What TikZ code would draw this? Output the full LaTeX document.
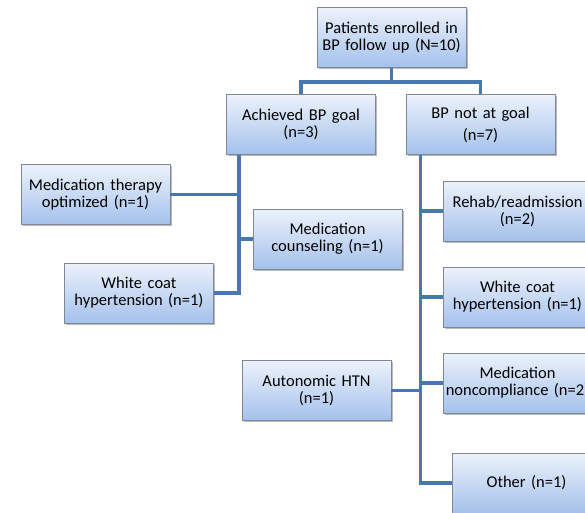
\documentclass[tikz,border=0pt]{standalone}
\usepackage{fontspec}
\setmainfont{Carlito}
\usetikzlibrary{shadows,calc}
\definecolor{boxtop}{RGB}{236,242,251}
\definecolor{boxbot}{RGB}{164,193,236}
\definecolor{boxline}{RGB}{128,136,148}
\definecolor{linkblue}{RGB}{72,120,178}
\begin{document}
\begin{tikzpicture}[
  x=1pt, y=-1pt,
  box/.style={rectangle,draw=boxline,line width=0.8pt,top color=boxtop,bottom color=boxbot,
    minimum width=149pt,minimum height=60pt,inner sep=0pt,text width=149pt,align=center,
    font=\fontsize{16.5}{17}\selectfont,
    drop shadow={shadow xshift=1.5pt,shadow yshift=-1.5pt,opacity=0.45,fill=black!60}},
  link/.style={draw=linkblue,line width=3.6pt},
]
  \useasboundingbox (0,0) rectangle (585,512);
  \clip (0,0) rectangle (585,512);

  % top level
  \node[box] (enr) at (391.5,37.5) {Patients enrolled in\\BP follow up (N=10)};
  \node[box] (ach) at (301,124.5) {Achieved BP goal\\(n=3)};
  \node[box] (bad) at (480.5,124.5) {BP not at goal\\[5pt](n=7)};

  % left branch
  \node[box] (mto) at (95.5,194.5) {Medication therapy\\optimized (n=1)};
  \node[box] (mcs) at (327.5,239) {Medication\\counseling (n=1)};
  \node[box] (wcl) at (139,293) {White coat\\hypertension (n=1)};

  % right branch
  \node[box] (reh) at (517.5,211) {\makebox[\linewidth][c]{Rehab/readmission}\\(n=2)};
  \node[box] (wcr) at (517.5,297) {White coat\\hypertension (n=1)};
  \node[box] (mnc) at (517.5,383) {Medication\\\makebox[\linewidth][c]{noncompliance (n=2)}};
  \node[box] (aut) at (316.5,390.5) {Autonomic HTN\\(n=1)};
  \node[box] (oth) at (526.5,483) {Other (n=1)};

  % connectors
  \coordinate (split) at ($(enr.south)+(0,14)$);
  \coordinate (trL) at ([xshift=13pt]ach.south west);
  \coordinate (trR) at ([xshift=15pt]bad.south west);

  \draw[link] (enr.south) -- (split);
  \draw[link] (ach.north) |- (split) -| (bad.north);

  \draw[link] (trL) |- (wcl.east);
  \draw[link] (mto.east) -- (mto.east -| trL);
  \draw[link] (mcs.west) -- (mcs.west -| trL);

  \draw[link] (trR) |- (oth.west);
  \draw[link] (reh.west) -- (reh.west -| trR);
  \draw[link] (wcr.west) -- (wcr.west -| trR);
  \draw[link] (mnc.west) -- (mnc.west -| trR);
  \draw[link] (aut.east) -- (aut.east -| trR);
\end{tikzpicture}
\end{document}
